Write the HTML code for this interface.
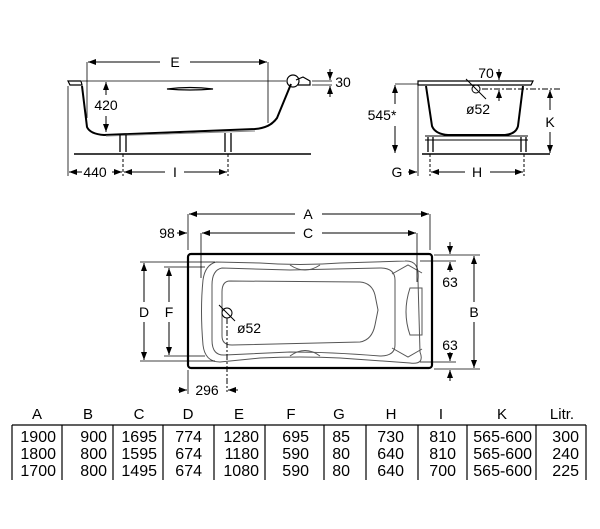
<!DOCTYPE html>
<html><head><meta charset="utf-8"><style>
html,body{margin:0;padding:0;background:#fff;}
svg{display:block;font-family:"Liberation Sans",sans-serif;}
</style></head><body>
<svg width="600" height="529" viewBox="0 0 600 529" xmlns="http://www.w3.org/2000/svg">
<defs>
<marker id="ar" markerWidth="8" markerHeight="6" refX="8" refY="3" orient="auto" markerUnits="userSpaceOnUse"><path d="M0,0 L8,3 L0,6 z" fill="#000"/></marker>
</defs>
<g stroke="#000" fill="none" stroke-width="1">
<!-- side view -->
<path d="M68,81 L81,81 L82,85 L70,85 Z" stroke-width="1.2"/>
<path d="M82,86 L87,127 Q90,134 104,135 L255,129 Q270,128 277,118 L291,84" stroke-width="2"/>
<path d="M106,136 L255,131" stroke="#888"/>
<line x1="82" y1="81" x2="286" y2="81" stroke-width="0.8"/>
<circle cx="293" cy="81" r="6" stroke-width="1.2"/>
<path d="M296,80 L303,77 L310,81 L310,85 L298,85" stroke-width="1.2"/>
<path d="M167,89 Q190,86 213,89 Q190,91 167,89 Z" stroke-width="1.2"/>
<line x1="87" y1="62" x2="87" y2="118" stroke-width="0.8"/>
<line x1="268" y1="62" x2="268" y2="123" stroke-width="0.8"/>
<line x1="160" y1="62" x2="88" y2="62" marker-end="url(#ar)"/>
<line x1="190" y1="62" x2="267" y2="62" marker-end="url(#ar)"/>
<line x1="106" y1="95" x2="106" y2="82" marker-end="url(#ar)"/>
<line x1="106" y1="116" x2="106" y2="132" marker-end="url(#ar)"/>
<line x1="312" y1="81" x2="332" y2="81" stroke-width="0.8"/>
<line x1="312" y1="85" x2="332" y2="85" stroke-width="0.8"/>
<line x1="330" y1="69" x2="330" y2="80" marker-end="url(#ar)"/>
<line x1="330" y1="97" x2="330" y2="86" marker-end="url(#ar)"/>
<path d="M120,135 L120,152 M126,135 L126,152 M225,133 L225,152 M231,133 L231,152" stroke-width="1.3"/>
<line x1="74" y1="154" x2="311" y2="154" stroke-width="1.5"/>
<line x1="68" y1="86" x2="68" y2="176" stroke-width="0.8"/>
<line x1="123" y1="154" x2="123" y2="176" stroke-dasharray="3,2"/>
<line x1="228" y1="154" x2="228" y2="176" stroke-dasharray="3,2"/>
<line x1="82" y1="172" x2="69" y2="172" marker-end="url(#ar)"/>
<line x1="112" y1="172" x2="122" y2="172" marker-end="url(#ar)"/>
<line x1="165" y1="172" x2="124" y2="172" marker-end="url(#ar)"/>
<line x1="184" y1="172" x2="227" y2="172" marker-end="url(#ar)"/>
<!-- end view -->
<path d="M418,81 L533,81 L531,85 L418,85 Z" stroke-width="1.2"/>
<path d="M426,86 L432,126 Q435,134 448,135 L505,135 Q516,134 518,126 L523,86" stroke-width="2"/>
<path d="M425,136 L528,136 M425,140 L528,140" stroke-width="1"/>
<path d="M428,137 L428,152 M433,137 L433,152 M521,137 L521,152 M526,137 L526,152" stroke-width="1.3"/>
<line x1="422" y1="154" x2="550" y2="154" stroke-width="1.5"/>
<circle cx="476" cy="89" r="4"/>
<line x1="466" y1="79" x2="486" y2="99"/>
<line x1="482" y1="89" x2="560" y2="89" stroke-dasharray="6,2,2,2"/>
<line x1="499" y1="69" x2="499" y2="80" marker-end="url(#ar)"/>
<line x1="499" y1="101" x2="499" y2="90" marker-end="url(#ar)"/>
<line x1="395" y1="84" x2="418" y2="84" stroke-width="0.8"/>
<line x1="395" y1="104" x2="395" y2="85" marker-end="url(#ar)"/>
<line x1="395" y1="126" x2="395" y2="153" marker-end="url(#ar)"/>
<line x1="418" y1="84" x2="418" y2="176" stroke-width="0.8"/>
<line x1="408" y1="172" x2="417" y2="172" marker-end="url(#ar)"/>
<line x1="430" y1="154" x2="430" y2="176" stroke-dasharray="3,2"/>
<line x1="524" y1="154" x2="524" y2="176" stroke-dasharray="3,2"/>
<line x1="465" y1="172" x2="431" y2="172" marker-end="url(#ar)"/>
<line x1="490" y1="172" x2="523" y2="172" marker-end="url(#ar)"/>
<line x1="550" y1="110" x2="550" y2="90" marker-end="url(#ar)"/>
<line x1="550" y1="132" x2="550" y2="153" marker-end="url(#ar)"/>
<!-- top view -->
<rect x="188" y="254" width="244" height="114" rx="3" stroke-width="2.2"/>
<path d="M216,262 Q205,265 203,280 Q200,310 203,345 Q205,362 220,362 L260,358 Q300,356 340,358 L410,363 Q425,365 420,352 L418,280 Q420,260 405,261 L340,263 Q300,266 260,263 Z" stroke="#555"/>
<path d="M222,268 Q212,270 212,285 L212,340 Q212,356 225,355 L290,352 Q330,352 380,356 Q395,356 395,345 L395,280 Q395,268 380,268 L290,270 Z" stroke="#555"/>
<path d="M230,281 Q222,281 222,292 L222,336 Q222,345 232,345 L360,342 Q372,340 375,325 L378,310 L375,295 Q372,283 360,282 Z" stroke="#555"/>
<path d="M290,265 Q305,275 320,265 M290,356 Q305,345 320,356" stroke="#555"/>
<path d="M410,288 L422,288 L422,335 L410,335 Q402,312 410,288 Z" stroke="#555"/>
<path d="M392,274 L408,265 L422,273 M392,348 L408,357 L422,349" stroke="#555"/>
<circle cx="227" cy="313" r="5"/>
<line x1="219" y1="305" x2="235" y2="321"/>
<line x1="227" y1="318" x2="227" y2="392" stroke-dasharray="6,2,2,2"/>
<line x1="188" y1="214" x2="188" y2="250" stroke-width="0.8"/>
<line x1="430" y1="214" x2="430" y2="250" stroke-width="0.8"/>
<line x1="201" y1="233" x2="201" y2="278" stroke-width="0.8"/>
<line x1="417" y1="233" x2="417" y2="282" stroke-width="0.8"/>
<line x1="295" y1="214" x2="189" y2="214" marker-end="url(#ar)"/>
<line x1="322" y1="214" x2="429" y2="214" marker-end="url(#ar)"/>
<line x1="295" y1="233" x2="202" y2="233" marker-end="url(#ar)"/>
<line x1="322" y1="233" x2="416" y2="233" marker-end="url(#ar)"/>
<line x1="177" y1="233" x2="187" y2="233" marker-end="url(#ar)"/>
<line x1="140" y1="262" x2="215" y2="262" stroke-width="0.8"/>
<line x1="140" y1="361" x2="215" y2="361" stroke-width="0.8"/>
<line x1="164" y1="267" x2="205" y2="267" stroke-width="0.8"/>
<line x1="164" y1="356" x2="205" y2="356" stroke-width="0.8"/>
<line x1="144" y1="302" x2="144" y2="263" marker-end="url(#ar)"/>
<line x1="144" y1="322" x2="144" y2="360" marker-end="url(#ar)"/>
<line x1="169" y1="302" x2="169" y2="268" marker-end="url(#ar)"/>
<line x1="169" y1="322" x2="169" y2="355" marker-end="url(#ar)"/>
<line x1="434" y1="255" x2="480" y2="255" stroke-width="0.8"/>
<line x1="420" y1="261" x2="456" y2="261" stroke-width="0.8"/>
<line x1="420" y1="362" x2="456" y2="362" stroke-width="0.8"/>
<line x1="434" y1="369" x2="480" y2="369" stroke-width="0.8"/>
<line x1="474" y1="302" x2="474" y2="256" marker-end="url(#ar)"/>
<line x1="474" y1="322" x2="474" y2="368" marker-end="url(#ar)"/>
<line x1="450" y1="242" x2="450" y2="254" marker-end="url(#ar)"/>
<line x1="450" y1="272" x2="450" y2="262" marker-end="url(#ar)"/>
<line x1="450" y1="352" x2="450" y2="361" marker-end="url(#ar)"/>
<line x1="450" y1="381" x2="450" y2="370" marker-end="url(#ar)"/>
<line x1="188" y1="370" x2="188" y2="394" stroke-width="0.8"/>
<line x1="178" y1="390" x2="187" y2="390" marker-end="url(#ar)"/>
<line x1="238" y1="390" x2="228" y2="390" marker-end="url(#ar)"/>
<!-- table -->
<line x1="12" y1="425" x2="586" y2="425" stroke-width="1.2"/>
<path d="M12,425V480 M62,425V480 M113,425V480 M163,425V480 M214,425V480 M265,425V480 M324,425V480 M366,425V480 M418,425V480 M467,425V480 M536,425V480 M586,425V480" stroke-width="1.2"/>
</g>
<g font-size="14" fill="#000" text-anchor="middle">
<text x="175" y="67">E</text>
<text x="106" y="110">420</text>
<text x="343" y="87">30</text>
<text x="95" y="177">440</text>
<text x="175" y="177">I</text>
<text x="486" y="78">70</text>
<text x="478" y="114">ø52</text>
<text x="382" y="120">545*</text>
<text x="397" y="177">G</text>
<text x="477" y="177">H</text>
<text x="550" y="127">K</text>
<text x="308" y="219">A</text>
<text x="308" y="238">C</text>
<text x="167" y="238">98</text>
<text x="144" y="317">D</text>
<text x="169" y="317">F</text>
<text x="474" y="317">B</text>
<text x="450" y="287">63</text>
<text x="450" y="350">63</text>
<text x="249" y="333">ø52</text>
<text x="207" y="395">296</text>
</g>
<g font-size="15" fill="#000" text-anchor="middle">
<text x="37" y="419">A</text><text x="88" y="419">B</text><text x="139" y="419">C</text><text x="188" y="419">D</text><text x="239" y="419">E</text><text x="291" y="419">F</text><text x="339" y="419">G</text><text x="391" y="419">H</text><text x="441" y="419">I</text><text x="502" y="419">K</text><text x="562" y="419">Litr.</text>
</g>
<g font-size="16" fill="#000" text-anchor="end">
<text x="56" y="442">1900</text><text x="107" y="442">900</text><text x="157" y="442">1695</text><text x="202" y="442">774</text><text x="259" y="442">1280</text><text x="309" y="442">695</text><text x="350" y="442">85</text><text x="404" y="442">730</text><text x="456" y="442">810</text><text x="532" y="442">565-600</text><text x="579" y="442">300</text>
<text x="56" y="459">1800</text><text x="107" y="459">800</text><text x="157" y="459">1595</text><text x="202" y="459">674</text><text x="259" y="459">1180</text><text x="309" y="459">590</text><text x="350" y="459">80</text><text x="404" y="459">640</text><text x="456" y="459">810</text><text x="532" y="459">565-600</text><text x="579" y="459">240</text>
<text x="56" y="476">1700</text><text x="107" y="476">800</text><text x="157" y="476">1495</text><text x="202" y="476">674</text><text x="259" y="476">1080</text><text x="309" y="476">590</text><text x="350" y="476">80</text><text x="404" y="476">640</text><text x="456" y="476">700</text><text x="532" y="476">565-600</text><text x="579" y="476">225</text>
</g>
</svg>
</body></html>
